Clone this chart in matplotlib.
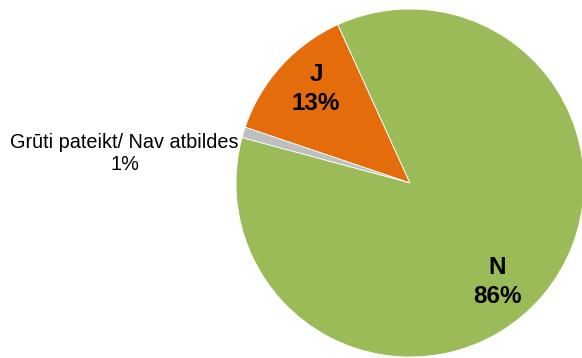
import matplotlib.pyplot as plt

# slices, counter-clockwise from the J/N border
labels = ["J", "Grūti pateikt/ Nav atbildes", "N"]
values = [13, 1, 86]
colors = ["#E46C0A", "#BFBFBF", "#9BBB59"]
# label centres in pie units (radius = 1)
label_pos = [(-0.54, 0.54), (-1.64, 0.17), (0.50, -0.57)]

fig = plt.figure(figsize=(5.82, 3.58), dpi=100)
# pie centre ~ (410,183) px, radius ~174 px
ax = fig.add_axes([(410 - 174) / 582, (358 - 183 - 174) / 358, 348 / 582, 348 / 358])
wedges, _ = ax.pie(values, colors=colors, startangle=114.5, counterclock=True,
                   wedgeprops=dict(edgecolor="white", linewidth=0.6))
ax.set_xlim(-1, 1)
ax.set_ylim(-1, 1)
ax.set_aspect("equal")
ax.axis("off")

for i, (x, y) in enumerate(label_pos):
    txt = "%s\n%d%%" % (labels[i], values[i])
    if i == 1:
        ax.text(x, y, txt, ha="center", va="center", fontsize=14.3,
                family="Liberation Sans", linespacing=1.25, clip_on=False)
    else:
        ax.text(x, y, txt, ha="center", va="center", fontsize=17.5,
                family="Liberation Sans", fontweight="bold", linespacing=1.35)

fig.savefig("out.png", dpi=100)
